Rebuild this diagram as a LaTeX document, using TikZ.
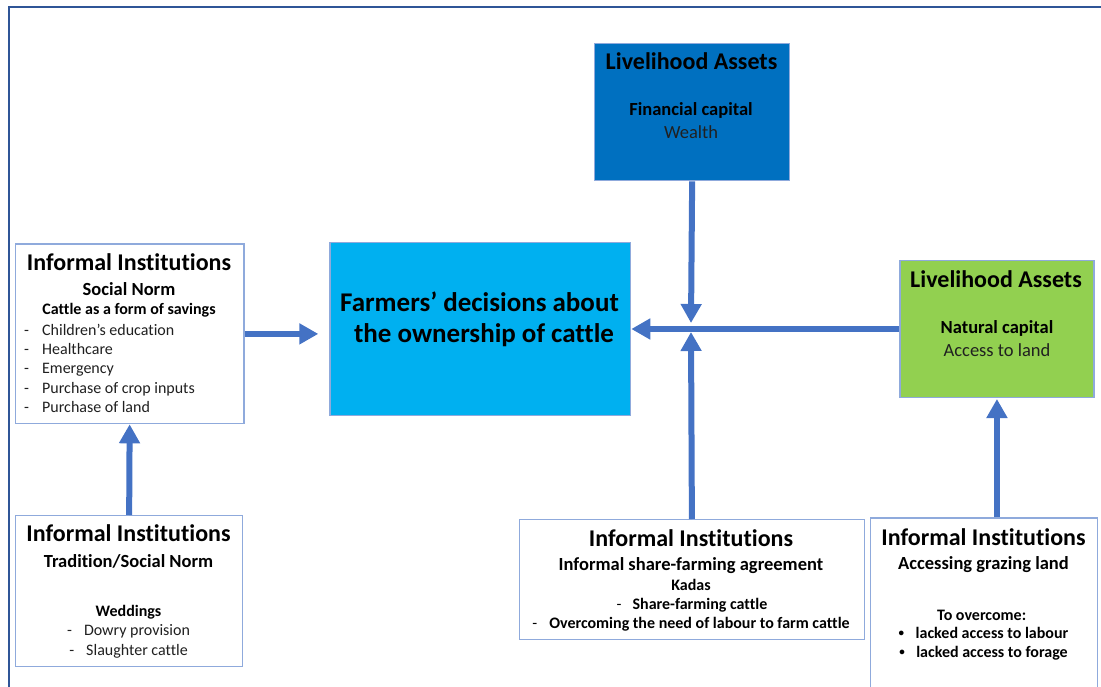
\documentclass[tikz,border=0pt]{standalone}
\usepackage{fontspec}
\setmainfont{Carlito}[Ligatures={NoCommon}]
\usetikzlibrary{arrows.meta}

\definecolor{framecol}{HTML}{2F5597}
\definecolor{edgecol}{HTML}{8FAADC}
\definecolor{arrowcol}{HTML}{4472C4}
\definecolor{finblue}{HTML}{0070C0}
\definecolor{decblue}{HTML}{00B0F0}
\definecolor{natgreen}{HTML}{92D050}
\definecolor{bodytext}{HTML}{202020}

\newcommand{\smallbullet}{\raisebox{1.5pt}{\fontsize{11}{11}\selectfont\textbullet}}

\begin{document}
\begin{tikzpicture}[x=1pt,y=-1pt,
  box/.style={draw=edgecol, line width=1.3pt, inner sep=0pt, anchor=north west},
  ttl/.style={font=\fontsize{24}{28}\selectfont\bfseries, anchor=base, inner sep=0pt},
  sub/.style={font=\fontsize{18.5}{22}\selectfont\bfseries, anchor=base, inner sep=0pt},
  subreg/.style={font=\fontsize{18.5}{22}\selectfont, text=bodytext, anchor=base, inner sep=0pt},
  small/.style={font=\fontsize{16}{19}\selectfont\bfseries, anchor=base, inner sep=0pt},
  item/.style={font=\fontsize{16}{19}\selectfont, text=bodytext, anchor=base, inner sep=0pt},
  big/.style={font=\fontsize{27}{32}\selectfont\bfseries, anchor=base, inner sep=0pt},
  arr/.style={draw=arrowcol, line width=6pt, -{Triangle[length=19pt,width=20pt]}}
]
\clip (0,0) rectangle (1101,687);

% outer frame
\draw[framecol, line width=2.6pt] (9,690) -- (9,7) -- (1104,7);

% boxes
\node[box, fill=finblue, minimum width=195pt, minimum height=137.3pt] (fin) at (594,42.7) {};
\node[box, fill=decblue, minimum width=300.7pt, minimum height=173.3pt] (dec) at (329.3,241.7) {};
\node[box, fill=natgreen, minimum width=194pt, minimum height=136.7pt] (nat) at (899.3,260) {};
\node[box, fill=white, minimum width=228.6pt, minimum height=179.5pt] (social) at (14.7,243.5) {};
\node[box, fill=white, minimum width=227pt, minimum height=151pt] (trad) at (15,515) {};
\node[box, fill=white, minimum width=345.5pt, minimum height=120pt] (share) at (518.5,519) {};
\node[box, fill=white, minimum width=227pt, minimum height=200pt] (graze) at (870,517.3) {};

% financial capital
\node[ttl] (fin1) at (691.5,69.3) {Livelihood Assets};
\node[sub] (fin2) at (691,116) {Financial capital};
\node[subreg] (fin3) at (691,139) {Wealth};

% central decision
\node[big] (dec1) at (479.5,311.7) {Farmers’ decisions about};
\node[big] (dec2) at (484,342.7) {the ownership of cattle};

% natural capital
\node[ttl] (nat1) at (996,287.3) {Livelihood Assets};
\node[sub] (nat2) at (997,333.3) {Natural capital};
\node[subreg] (nat3) at (997,356) {Access to land};

% social norm
\node[ttl] (soc1) at (129,271) {Informal Institutions};
\node[sub] (soc2) at (129,295) {Social Norm};
\node[small] (soc3) at (129,315) {Cattle as a form of savings};
\node[item, anchor=base west] (soc4) at (24,335) {\makebox[18pt][l]{-}Children’s education};
\node[item, anchor=base west] (soc5) at (24,354.4) {\makebox[18pt][l]{-}Healthcare};
\node[item, anchor=base west] (soc6) at (24,373.8) {\makebox[18pt][l]{-}Emergency};
\node[item, anchor=base west] (soc7) at (24,393.2) {\makebox[18pt][l]{-}Purchase of crop inputs};
\node[item, anchor=base west] (soc8) at (24,412.6) {\makebox[18pt][l]{-}Purchase of land};

% tradition
\node[ttl] (tra1) at (128.5,541.5) {Informal Institutions};
\node[sub] (tra2) at (128.5,567.5) {Tradition/Social Norm};
\node[small] (tra3) at (128.5,616.5) {Weddings};
\node[item] (tra4) at (128.5,635.7) {\makebox[17pt][l]{-}Dowry provision};
\node[item] (tra5) at (128.5,655) {\makebox[17pt][l]{-}Slaughter cattle};

% share-farming
\node[ttl] (sha1) at (691,546) {Informal Institutions};
\node[sub] (sha2) at (691,570) {Informal share-farming agreement};
\node[small] (sha3) at (691,590) {Kadas};
\node[small] (sha4) at (692,609.3) {\makebox[16pt][l]{\mdseries -}Share-farming cattle};
\node[small] (sha5) at (691,628.7) {\makebox[17pt][l]{\mdseries -}Overcoming the need of labour to farm cattle};

% grazing land
\node[ttl] (gra1) at (983.5,545) {Informal Institutions};
\node[sub] (gra2) at (983.5,569.3) {Accessing grazing land};
\node[small] (gra3) at (981.7,620) {To overcome:};
\node[small] (gra4) at (983.5,638.3) {\makebox[17pt][l]{\smallbullet}lacked access to labour};
\node[small] (gra5) at (983.5,657.3) {\makebox[17pt][l]{\smallbullet}lacked access to forage};

% connectors
\coordinate (hub) at (691,329);
\draw[arr] (social.east) -- ([xshift=-11pt]social.east -| dec.west);
\draw[arr] (trad.north) -- (social.south);
\draw[arr] (fin.south) -- ([yshift=6pt]hub);
\draw[arr] (share.north) -- ([yshift=-3pt]hub);
\draw[arr] (nat.west) -- (nat.west -| dec.east);
\draw[arr] (graze.north -| nat.south) -- ([yshift=-1pt]nat.south);
\end{tikzpicture}
\end{document}
